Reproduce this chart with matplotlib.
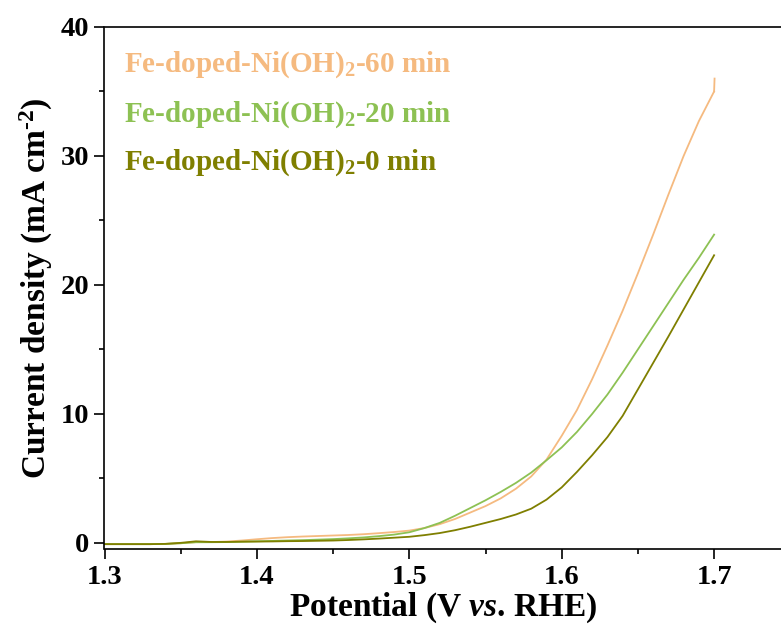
import numpy as np
import matplotlib
matplotlib.use("Agg")
import matplotlib.pyplot as plt
from matplotlib.ticker import MultipleLocator, FormatStrFormatter

# ==========================================
# DATA
# ==========================================
potential = [1.30, 1.31, 1.32, 1.33, 1.34, 1.35, 1.36, 1.37, 1.38, 1.39,
             1.40, 1.41, 1.42, 1.43, 1.44, 1.45, 1.46, 1.47, 1.48, 1.49,
             1.50, 1.51, 1.52, 1.53, 1.54, 1.55, 1.56, 1.57, 1.58, 1.59,
             1.60, 1.61, 1.62, 1.63, 1.64, 1.65, 1.66, 1.67, 1.68, 1.69,
             1.70]

current_60min = [-0.10, -0.10, -0.10, -0.10, -0.08, -0.03, 0.05, 0.06, 0.10, 0.18,
                 0.28, 0.37, 0.44, 0.49, 0.53, 0.57, 0.61, 0.67, 0.75, 0.84,
                 0.95, 1.15, 1.45, 1.85, 2.35, 2.85, 3.45, 4.20, 5.15, 6.45,
                 8.30, 10.3, 12.7, 15.3, 18.0, 20.9, 23.9, 27.0, 30.0, 32.7,
                 35.0]
current_20min = [-0.10, -0.10, -0.10, -0.10, -0.08, -0.03, 0.05, 0.05, 0.06, 0.09,
                 0.12, 0.15, 0.18, 0.21, 0.25, 0.29, 0.35, 0.42, 0.52, 0.64,
                 0.82, 1.15, 1.55, 2.10, 2.70, 3.30, 3.95, 4.65, 5.45, 6.40,
                 7.40, 8.60, 10.0, 11.5, 13.2, 15.0, 16.8, 18.6, 20.4, 22.1,
                 23.9]
current_0min = [-0.10, -0.10, -0.10, -0.10, -0.08, 0.00, 0.12, 0.07, 0.07, 0.09,
                0.10, 0.11, 0.13, 0.14, 0.16, 0.18, 0.22, 0.27, 0.33, 0.40,
                0.47, 0.60, 0.76, 0.98, 1.25, 1.55, 1.85, 2.20, 2.65, 3.35,
                4.30, 5.50, 6.80, 8.20, 9.85, 11.9, 13.95, 16.0, 18.1, 20.2,
                22.3]

# little hook at the very end of the 60 min scan
hook_x = [1.70, 1.7003]
hook_y = [35.0, 36.0]

labels = ["Fe-doped-Ni(OH)$_2$-60 min",
          "Fe-doped-Ni(OH)$_2$-20 min",
          "Fe-doped-Ni(OH)$_2$-0 min"]
colors = ["#F5BA80", "#8DC153", "#7F7F00"]

plt.rcParams['font.family'] = ['Liberation Serif', 'DejaVu Serif']
plt.rcParams['font.weight'] = 'bold'
plt.rcParams['mathtext.fontset'] = 'custom'
plt.rcParams['mathtext.rm'] = 'Liberation Serif:bold'
plt.rcParams['mathtext.bf'] = 'Liberation Serif:bold'
plt.rcParams['mathtext.it'] = 'Liberation Serif:italic:bold'

W, H = 781, 633
fig = plt.figure(figsize=(W / 100, H / 100), dpi=100)
ax = fig.add_axes([104.5 / W, 1 - 549.3 / H, 1 - 104.5 / W, (549.3 - 27) / H])

ax.plot(potential, current_60min, color=colors[0], lw=1.3)
ax.plot(hook_x, hook_y, color=colors[0], lw=1.3)
ax.plot(potential, current_20min, color=colors[1], lw=1.3)
ax.plot(potential, current_0min, color=colors[2], lw=1.3)

ax.set_xlim(1.3, 1.3 + (W - 104.5) / 1524)
ax.set_ylim(-0.5, 40)
ax.xaxis.set_major_locator(MultipleLocator(0.1))
ax.xaxis.set_minor_locator(MultipleLocator(0.05))
ax.yaxis.set_major_locator(MultipleLocator(10))
ax.yaxis.set_minor_locator(MultipleLocator(5))
ax.xaxis.set_major_formatter(FormatStrFormatter('%.1f'))

ax.spines['right'].set_visible(False)
for s in ['left', 'bottom', 'top']:
    ax.spines[s].set_linewidth(1.2)
ax.tick_params(which='major', direction='out', length=7, width=1.2,
               labelsize=20.5, pad=4, top=False, right=False)
ax.tick_params(which='minor', direction='out', length=3.8, width=1.2,
               top=False, right=False)

ax.set_xlabel("Potential (V $vs$. RHE)", fontsize=24, fontweight='bold', labelpad=1)
ax.set_ylabel("Current density (mA cm$^{\\text{-}2}$)", fontsize=24,
              fontweight='bold', labelpad=4)

# coloured text in place of a legend
baselines = [72, 122, 170]
for lab, col, yb in zip(labels, colors, baselines):
    fig.text(124 / W, 1 - yb / H, lab, color=col, fontsize=21,
             fontweight='bold', va='baseline', ha='left')

fig.savefig("out.png", dpi=100)
